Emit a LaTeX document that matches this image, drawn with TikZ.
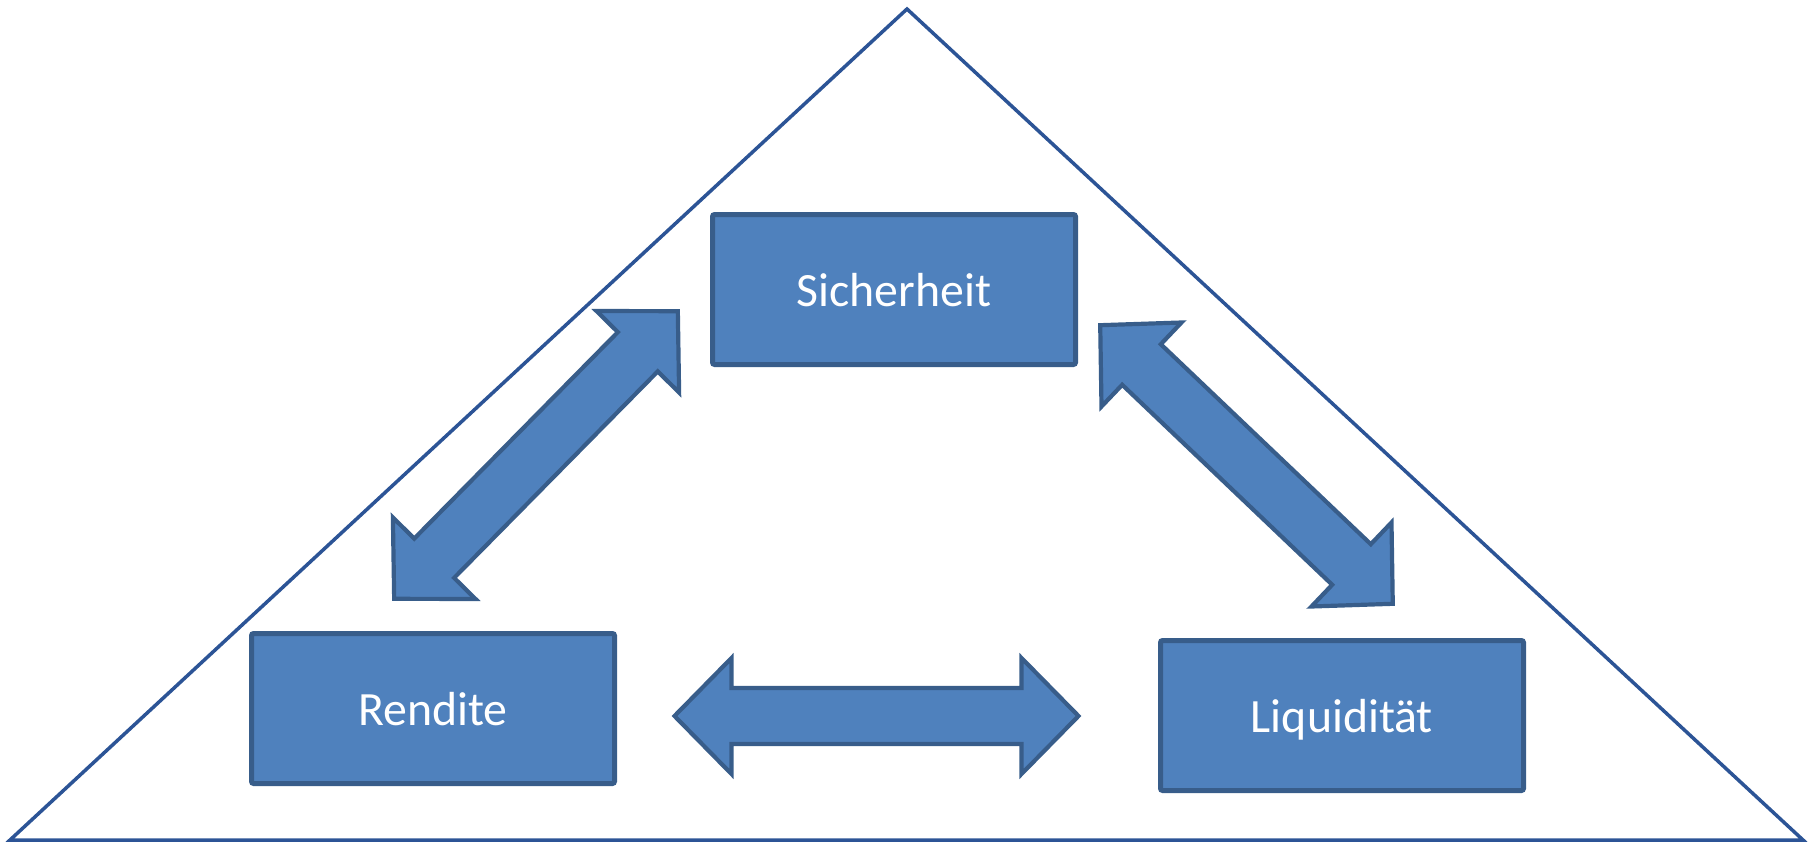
\documentclass[tikz,border=0pt]{standalone}
\usepackage{fontspec}
\setmainfont{Carlito}
\usetikzlibrary{positioning}
\definecolor{boxblue}{HTML}{4F81BD}
\definecolor{boxline}{HTML}{385D8A}
\definecolor{triline}{HTML}{2C5496}

\begin{document}
\begin{tikzpicture}[x=0.1mm, y=-0.1mm,
  goal/.style={draw=boxline, line width=0.5mm, fill=boxblue, rounded corners=0.6pt,
    minimum width=36.3mm, minimum height=15mm, inner sep=0pt, text=white,
    font=\fontsize{13.6}{16}\selectfont, text height=3.45mm, text depth=0pt},
  pics/dblarrow/.style={code={
    \draw[draw=boxline, line width=0.42mm, fill=boxblue]
      (-202,0) -- (-145,58) -- (-145,28) -- (145,28) -- (145,58) -- (202,0)
      -- (145,-58) -- (145,-28) -- (-145,-28) -- (-145,-58) -- cycle;
  }}]

  \useasboundingbox (0,0) rectangle (1810,842);

  % outer triangle
  \draw[triline, line width=0.35mm, line join=miter] (10,840) -- (907,9) -- (1803,840) -- cycle;

  % the three goals
  \node[goal] (sicher)  at (894,289.5) {Sicherheit};
  \node[goal] (rendite) at (433,708.5) {Rendite};
  \node[goal] (liqui)   at (1342,715.5) {Liquidität};

  % double arrows between them
  \pic[rotate=45.4]  at (536,455)   {dblarrow};
  \pic[rotate=-43.6] at (1246.5,464.5) {dblarrow};
  \pic               at (876.5,716) {dblarrow};

\end{tikzpicture}
\end{document}
